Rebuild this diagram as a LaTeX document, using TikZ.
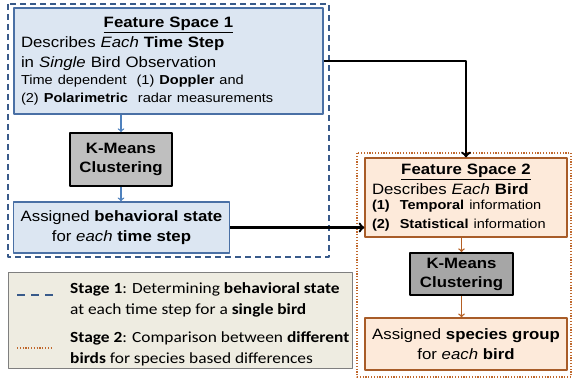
\documentclass[tikz,border=0pt]{standalone}
\usepackage{fontspec}
\setmainfont{Liberation Sans}[FakeStretch=1.12]
\newfontfamily\legfont{Carlito}[FakeStretch=1.12]
\usepackage{tikz}
\usetikzlibrary{arrows,positioning}

\definecolor{fsblue}{RGB}{220,230,242}
\definecolor{fsblueline}{RGB}{74,112,165}
\definecolor{stageblue}{RGB}{56,90,138}
\definecolor{arrowblue}{RGB}{79,129,189}
\definecolor{fsorange}{RGB}{253,234,218}
\definecolor{fsorangeline}{RGB}{168,92,40}
\definecolor{stageorange}{RGB}{192,104,44}
\definecolor{arrowbrown}{RGB}{180,95,35}
\definecolor{kmgray}{RGB}{191,191,191}
\definecolor{kmgraydark}{RGB}{166,166,166}
\definecolor{legfill}{RGB}{238,236,225}
\definecolor{legline}{RGB}{127,127,127}

\begin{document}
\begin{tikzpicture}
    [x=1pt,y=-1pt,line join=round,
     font=\fontsize{15}{20}\selectfont,
     fsone/.style={draw=fsblueline,fill=fsblue,line width=1.4pt,inner xsep=7pt},
     fstwo/.style={draw=fsorangeline,fill=fsorange,line width=1.4pt,inner xsep=7pt},
     kmeans/.style={draw=black,line width=1.8pt,align=center,font=\fontsize{15}{19}\selectfont\bfseries},
     stageone/.style={draw=stageblue,line width=1.5pt,dash pattern=on 6pt off 4pt},
     stagetwo/.style={draw=stageorange,line width=1.3pt,dash pattern=on 1.2pt off 1.6pt},
     bluearrow/.style={->,draw=arrowblue,line width=1.4pt},
     brownarrow/.style={->,draw=arrowbrown,line width=1.4pt},
     blackarrow/.style={->,draw=black,line width=2.4pt},
     legtext/.style={anchor=west,align=left,inner sep=0pt,font=\legfont\fontsize{15.5}{20.5}\selectfont}]
\useasboundingbox (0,0) rectangle (572,379);
%stage frames
\draw[stageone] (8,4) rectangle (329,257);
\draw[stagetwo] (357,153) rectangle (571,377);

%stage 1
\node[fsone,minimum width=309pt,minimum height=106pt,text width=295pt,align=left] (fs1) at (168.5,61)
  {\makebox[295pt]{\underline{\textbf{Feature Space 1}}}\\
   Describes \textit{Each} \textbf{Time Step}\\
   in \textit{Single} Bird Observation\\
   {\fontsize{13}{17}\selectfont Time dependent~~(1) \textbf{Doppler} and\\[-2pt]
   (2) \textbf{Polarimetric}~~radar measurements}};
\node[kmeans,fill=kmgray,minimum width=102pt,minimum height=53pt] (km1) at (121,159.5) {K-Means\\Clustering};
\node[fsone,minimum width=215pt,minimum height=51pt,align=center] (as1) at (121.5,227.5)
  {Assigned \textbf{behavioral state}\\for \textit{each} \textbf{time step}};

%stage 2
\node[fstwo,minimum width=202pt,minimum height=79pt,text width=188pt,align=left] (fs2) at (466,197.5)
  {\makebox[188pt]{\underline{\textbf{Feature Space 2}}}\\
   Describes \textit{Each} \textbf{Bird}\\[-1.5pt]
   {\fontsize{13}{17}\selectfont \textbf{(1)}~~\textbf{Temporal} information\\[-1.5pt]
   \textbf{(2)}~~\textbf{Statistical} information}};
\node[kmeans,fill=kmgraydark,minimum width=103pt,minimum height=42pt] (km2) at (461.5,274) {K-Means\\Clustering};
\node[fstwo,minimum width=202pt,minimum height=52pt,align=center] (as2) at (466,344)
  {Assigned \textbf{species group}\\for \textit{each} \textbf{bird}};

%legend
\node[draw=legline,fill=legfill,line width=1pt,minimum width=344pt,minimum height=96pt] (leg) at (180,320) {};
\node[legtext] (leg1) at (70,300) {\textbf{Stage 1}: Determining \textbf{behavioral state}\\at each time step for a \textbf{single bird}};
\node[legtext] (leg2) at (70,349) {\textbf{Stage 2}: Comparison between \textbf{different}\\\textbf{birds} for species based differences};
\draw[stageone,dash pattern=on 8pt off 6pt] (17,295) -- (53,295);
\draw[stagetwo] (17,348) -- (53,348);

%arrows
\draw[bluearrow] (fs1.south -| km1.north) -- (km1.north);
\draw[bluearrow] (km1.south) -- (km1.south |- as1.north);
\draw[brownarrow] (km2.north |- fs2.south) -- (km2.north);
\draw[brownarrow] (km2.south) -- (km2.south |- as2.north);
\draw[blackarrow] (fs1.east) -| (fs2.north);
\draw[blackarrow] (as1.east) -- (as1.east -| fs2.west);
\end{tikzpicture}
\end{document}
